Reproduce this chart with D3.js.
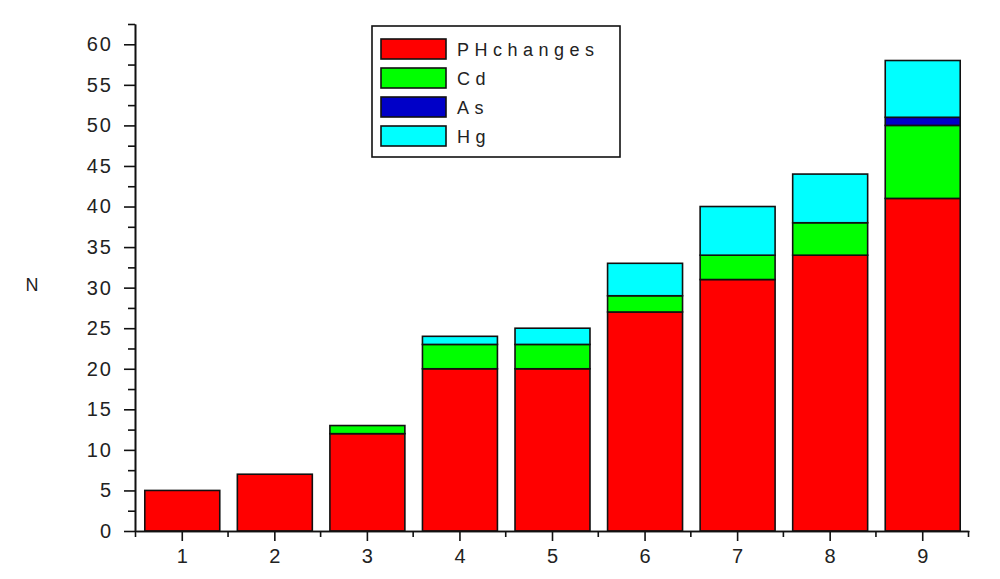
<!DOCTYPE html>
<html>
<head>
<meta charset="utf-8">
<script src="https://cdn.jsdelivr.net/npm/d3@7"></script>
<style>
  body { margin: 0; background: #fff; }
  text { font-family: Arial, "Liberation Sans", sans-serif; fill: #222; }
</style>
</head>
<body>
<div id="chart"></div>
<script>
// data
var categories = ["1", "2", "3", "4", "5", "6", "7", "8", "9"];
var phChanges = [5, 7, 12, 20, 20, 27, 31, 34, 41];
var cdValues = [0, 0, 1, 3, 3, 2, 3, 4, 9];
var asValues = [0, 0, 0, 0, 0, 0, 0, 0, 1];
var hgValues = [0, 0, 0, 1, 2, 4, 6, 6, 7];
var seriesNames = ["PHchanges", "Cd", "As", "Hg"];
var seriesColors = ["#ff0000", "#00ff00", "#0000c8", "#00ffff"];
var yMajorTicks = [0, 5, 10, 15, 20, 25, 30, 35, 40, 45, 50, 55, 60];
var yMinorTicks = [2.5, 7.5, 12.5, 17.5, 22.5, 27.5, 32.5, 37.5, 42.5, 47.5, 52.5, 57.5, 62.5];
var xMinorTicks = [0.5, 1.5, 2.5, 3.5, 4.5, 5.5, 6.5, 7.5, 8.5, 9.5];

var svgWidth = 1000, svgHeight = 579;
var plotLeft = 135, plotRight = 968, plotTop = 24, plotBottom = 531;

var svg = d3.select("#chart").append("svg")
  .attr("width", svgWidth)
  .attr("height", svgHeight);

// build rows for stacking
var rows = categories.map(function (c, i) {
  return { cat: c, PHchanges: phChanges[i], Cd: cdValues[i], As: asValues[i], Hg: hgValues[i] };
});
var stacked = d3.stack().keys(seriesNames)(rows);

// scales
var x = d3.scaleBand()
  .domain(categories)
  .range([plotLeft + 1, plotRight + 1])
  .paddingInner(0.19)
  .paddingOuter(0.095);

var xLin = d3.scaleLinear()
  .domain([0.5, 9.5])
  .range([plotLeft, plotRight]);

var y = d3.scaleLinear()
  .domain([0, 62.5])
  .range([plotBottom, plotTop]);

var color = d3.scaleOrdinal().domain(seriesNames).range(seriesColors);

// bars
svg.append("g").selectAll("g")
  .data(stacked)
  .enter()
  .append("g")
  .attr("fill", function (d) { return color(d.key); })
  .selectAll("rect")
  .data(function (d) { return d.filter(function (p) { return p[1] > p[0]; }); })
  .enter()
  .append("rect")
  .attr("x", function (d) { return x(d.data.cat); })
  .attr("y", function (d) { return y(d[1]); })
  .attr("width", x.bandwidth())
  .attr("height", function (d) { return y(d[0]) - y(d[1]); })
  .attr("stroke", "#111")
  .attr("stroke-width", 1.6);

// y axis: major + minor ticks
var yAxisG = svg.append("g")
  .attr("transform", "translate(" + plotLeft + ",0)")
  .call(d3.axisLeft(y).tickValues(yMajorTicks).tickSize(11).tickPadding(11).tickSizeOuter(0));
svg.append("g")
  .attr("transform", "translate(" + plotLeft + ",0)")
  .call(d3.axisLeft(y).tickValues(yMinorTicks).tickSize(7).tickFormat("").tickSizeOuter(0));

// x axis: major + minor ticks
svg.append("g")
  .attr("transform", "translate(0," + plotBottom + ")")
  .call(d3.axisBottom(x).tickSize(10).tickPadding(8).tickSizeOuter(0));
svg.append("g")
  .attr("transform", "translate(0," + plotBottom + ")")
  .call(d3.axisBottom(xLin).tickValues(xMinorTicks).tickSize(6).tickFormat("").tickSizeOuter(0));

svg.selectAll(".domain").attr("stroke", "#111").attr("stroke-width", 1.6);
svg.selectAll(".tick line").attr("stroke", "#111").attr("stroke-width", 1.6);
svg.selectAll(".tick text")
  .style("font-family", "Arial, 'Liberation Sans', sans-serif")
  .style("font-size", "20px")
  .attr("fill", "#222");
yAxisG.selectAll(".tick text").style("letter-spacing", "2px");

// y axis title
svg.append("text")
  .attr("x", 32)
  .attr("y", 291)
  .attr("text-anchor", "middle")
  .style("font-size", "18px")
  .text("N");

// legend
var legend = svg.append("g");
legend.append("rect")
  .attr("x", 372)
  .attr("y", 26)
  .attr("width", 248)
  .attr("height", 131)
  .attr("fill", "#fff")
  .attr("stroke", "#111")
  .attr("stroke-width", 1.6);

var legendItems = legend.selectAll("g.item")
  .data(seriesNames)
  .enter()
  .append("g")
  .attr("class", "item")
  .attr("transform", function (d, i) { return "translate(381," + (39 + i * 29) + ")"; });

legendItems.append("rect")
  .attr("width", 65)
  .attr("height", 20)
  .attr("fill", function (d) { return color(d); })
  .attr("stroke", "#111")
  .attr("stroke-width", 1.6);

legendItems.append("text")
  .attr("x", 76)
  .attr("y", 17)
  .style("font-size", "18px")
  .style("letter-spacing", "5.5px")
  .text(function (d) { return d; });
</script>
</body>
</html>
